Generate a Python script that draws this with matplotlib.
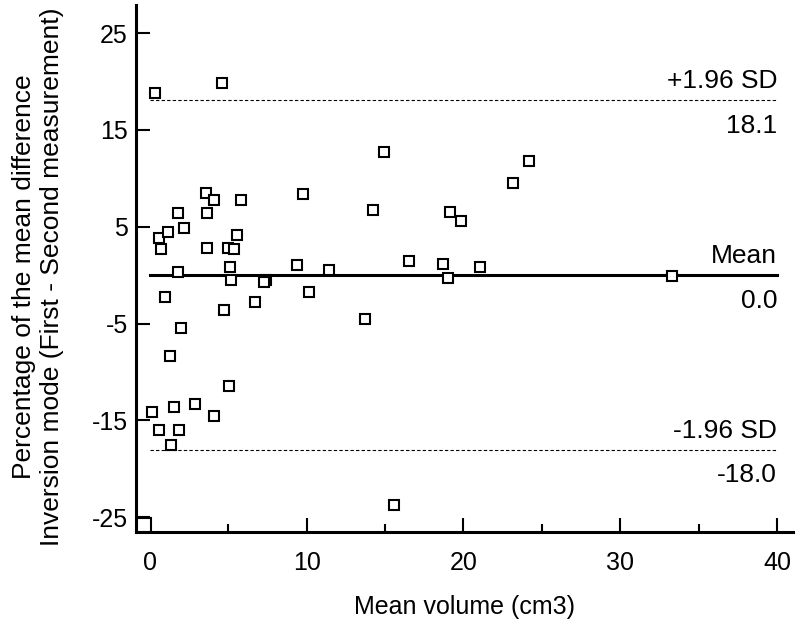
import matplotlib
matplotlib.use("Agg")
import matplotlib.pyplot as plt

plt.rcParams["font.family"] = ["Liberation Sans", "DejaVu Sans"]
plt.rcParams["axes.unicode_minus"] = False

# mean volume (cm3) and % difference
mean_volume = [0.33, 4.6, 14.95, 3.58, 4.1, 5.8, 9.75, 1.8, 3.62, 14.25,
               2.2, 0.56, 1.13, 0.71, 3.62, 4.98, 5.4, 5.59, 1.8, 5.13,
               9.37, 11.42, 16.5, 5.19, 7.4, 7.29, 0.94, 10.15, 4.72, 6.71,
               13.72, 2.0, 1.26, 5.06, 0.11, 1.54, 2.9, 4.1, 0.6, 1.88,
               1.32, 15.6, 24.2, 23.18, 19.17, 19.85, 18.71, 19.0, 21.08, 33.3]
pct_diff = [18.85, 19.86, 12.76, 8.49, 7.8, 7.8, 8.35, 6.38, 6.38, 6.74,
            4.83, 3.87, 4.42, 2.67, 2.77, 2.77, 2.67, 4.11, 0.29, 0.81,
            1.01, 0.5, 1.47, -0.46, -0.54, -0.7, -2.22, -1.7, -3.56, -2.81,
            -4.57, -5.42, -8.39, -11.41, -14.17, -13.62, -13.31, -14.51, -16.03, -16.03,
            -17.54, -23.68, 11.76, 9.56, 6.49, 5.63, 1.19, -0.33, 0.81, -0.05]

# the odd square sitting in the lower-left corner
corner_x = [-0.38]
corner_y = [-25.8]

mean_diff = 0.0
upper_loa = 18.1
lower_loa = -18.0
line_x = [0, 40]

fig = plt.figure(figsize=(8, 6.25), dpi=100)
ax = fig.add_axes([0.17, 0.149, 0.821, 0.843])

ax.plot(mean_volume, pct_diff, linestyle="none", marker="s", markersize=6.5,
        markerfacecolor="white", markeredgecolor="black", markeredgewidth=1.5, zorder=3)
ax.plot(corner_x, corner_y, linestyle="none", marker="s", markersize=10,
        markerfacecolor="white", markeredgecolor="black", markeredgewidth=1.5, zorder=3)

ax.plot(line_x, [mean_diff, mean_diff], color="black", lw=2.2, zorder=2)
for v in (upper_loa, lower_loa):
    ax.plot(line_x, [v, v], color="black", lw=0.8, linestyle=(0, (3, 2)), zorder=2)

labels = [(upper_loa, "+1.96 SD", f"{upper_loa:.1f}"),
          (mean_diff, "Mean", f"{mean_diff:.1f}"),
          (lower_loa, "-1.96 SD", f"{lower_loa:.1f}")]
for v, above, below in labels:
    ax.annotate(above, (40, v), xytext=(0, 5), textcoords="offset points",
                ha="right", va="bottom", fontsize=19)
    ax.annotate(below, (40, v), xytext=(0, -10), textcoords="offset points",
                ha="right", va="top", fontsize=19)

ax.set_xlim(-0.88, 41.0)
ax.set_ylim(-26.5, 27.9)
ax.set_xticks([0, 10, 20, 30, 40])
ax.set_xticks([5, 15, 25, 35], minor=True)
ax.set_yticks([-25, -15, -5, 5, 15, 25])

for side in ("top", "right"):
    ax.spines[side].set_visible(False)
for side in ("left", "bottom"):
    ax.spines[side].set_linewidth(2.2)

ax.tick_params(axis="both", which="major", direction="in", labelsize=18, width=1.5)
ax.tick_params(axis="x", which="major", length=10, pad=14)
ax.tick_params(axis="x", which="minor", direction="in", length=6, width=1.5)
ax.tick_params(axis="y", which="major", length=10, pad=6)

ax.set_xlabel("Mean volume (cm3)", fontsize=18, labelpad=14)
fig.text(0.048, 0.557, "Percentage of the mean difference\nInversion mode (First - Second measurement)",
         rotation=90, ha="center", va="center", multialignment="center", fontsize=19)

fig.savefig("out.png", dpi=100)
